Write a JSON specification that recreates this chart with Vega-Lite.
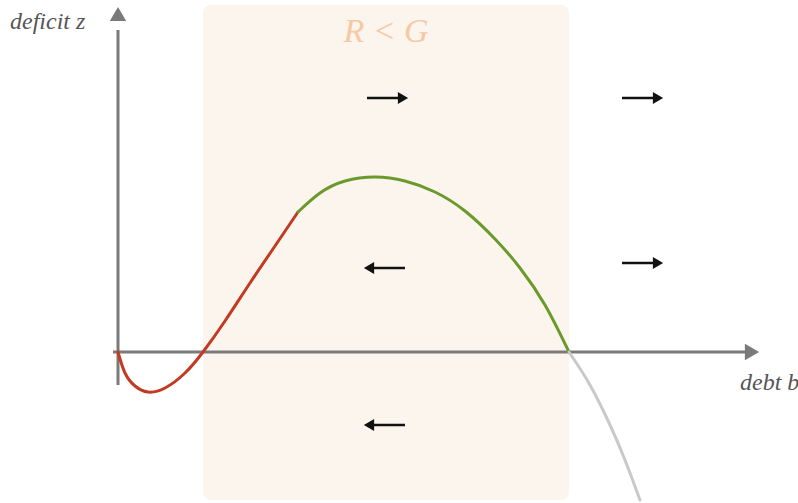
{
  "$schema": "https://vega.github.io/schema/vega-lite/v6.json",
  "width": 798,
  "height": 503,
  "autosize": {"type": "none"},
  "padding": 0,
  "background": "#ffffff",
  "view": {"stroke": null},
  "datasets": {
    "region": [{"b0": 0.85, "b1": 4.51, "z0": -1.48, "z1": 3.47}],
    "curve": [
      {"seg": "red", "b": 0.0, "z": 0.0},
      {"seg": "red", "b": 0.07, "z": -0.21},
      {"seg": "red", "b": 0.17, "z": -0.34},
      {"seg": "red", "b": 0.3, "z": -0.4},
      {"seg": "red", "b": 0.47, "z": -0.36},
      {"seg": "red", "b": 0.67, "z": -0.21},
      {"seg": "red", "b": 0.85, "z": 0.0},
      {"seg": "red", "b": 1.07, "z": 0.31},
      {"seg": "red", "b": 1.32, "z": 0.69},
      {"seg": "red", "b": 1.57, "z": 1.06},
      {"seg": "red", "b": 1.8, "z": 1.4},
      {"seg": "green", "b": 1.8, "z": 1.4},
      {"seg": "green", "b": 2.02, "z": 1.59},
      {"seg": "green", "b": 2.27, "z": 1.71},
      {"seg": "green", "b": 2.57, "z": 1.75},
      {"seg": "green", "b": 2.87, "z": 1.71},
      {"seg": "green", "b": 3.17, "z": 1.6},
      {"seg": "green", "b": 3.47, "z": 1.41},
      {"seg": "green", "b": 3.77, "z": 1.13},
      {"seg": "green", "b": 4.02, "z": 0.84},
      {"seg": "green", "b": 4.27, "z": 0.47},
      {"seg": "green", "b": 4.51, "z": 0.0},
      {"seg": "grey", "b": 4.51, "z": 0.0},
      {"seg": "grey", "b": 4.72, "z": -0.33},
      {"seg": "grey", "b": 4.92, "z": -0.73},
      {"seg": "grey", "b": 5.07, "z": -1.08},
      {"seg": "grey", "b": 5.22, "z": -1.48}
    ],
    "axes": [
      {"name": "z", "b0": 0.0, "b1": 0.0, "z0": -0.33, "z1": 3.22, "hb": 0.0, "hz": 3.38, "shape": "triangle-up"},
      {"name": "b", "b0": -0.05, "b1": 6.28, "z0": 0.0, "z1": 0.0, "hb": 6.34, "hz": 0.0, "shape": "triangle-right"}
    ],
    "arrows": [
      {"b0": 2.49, "b1": 2.84, "z": 2.54, "hb": 2.85, "shape": "triangle-right"},
      {"b0": 5.04, "b1": 5.39, "z": 2.54, "hb": 5.40, "shape": "triangle-right"},
      {"b0": 5.04, "b1": 5.39, "z": 0.89, "hb": 5.40, "shape": "triangle-right"},
      {"b0": 2.52, "b1": 2.87, "z": 0.84, "hb": 2.51, "shape": "triangle-left"},
      {"b0": 2.52, "b1": 2.87, "z": -0.73, "hb": 2.51, "shape": "triangle-left"}
    ],
    "labels": [
      {"text": "deficit z", "b": -1.08, "z": 3.3},
      {"text": "debt b", "b": 6.22, "z": -0.31}
    ]
  },
  "encoding": {
    "x": {"type": "quantitative", "scale": {"domain": [-1.18, 6.8], "nice": false, "zero": false}, "axis": null},
    "y": {"type": "quantitative", "scale": {"domain": [-1.51, 3.52], "nice": false, "zero": false}, "axis": null}
  },
  "layer": [
    {
      "data": {"name": "region"},
      "mark": {"type": "rect", "fill": "#fcf5ee", "cornerRadius": 8},
      "encoding": {
        "x": {"field": "b0", "type": "quantitative"},
        "x2": {"field": "b1"},
        "y": {"field": "z0", "type": "quantitative"},
        "y2": {"field": "z1"}
      }
    },
    {
      "data": {"values": [{"t": "R < G", "b": 2.68, "z": 3.2}]},
      "mark": {"type": "text", "font": "Liberation Serif", "fontStyle": "italic", "fontSize": 34, "color": "#f6c9a4", "baseline": "middle", "align": "center"},
      "encoding": {
        "x": {"field": "b", "type": "quantitative"},
        "y": {"field": "z", "type": "quantitative"},
        "text": {"field": "t"}
      }
    },
    {
      "data": {"name": "axes"},
      "mark": {"type": "rule", "color": "#7a7a7a", "strokeWidth": 3},
      "encoding": {
        "x": {"field": "b0", "type": "quantitative"},
        "x2": {"field": "b1"},
        "y": {"field": "z0", "type": "quantitative"},
        "y2": {"field": "z1"}
      }
    },
    {
      "data": {"name": "axes"},
      "mark": {"type": "point", "filled": true, "color": "#7a7a7a", "opacity": 1, "size": 270},
      "encoding": {
        "x": {"field": "hb", "type": "quantitative"},
        "y": {"field": "hz", "type": "quantitative"},
        "shape": {"field": "shape", "type": "nominal", "scale": null}
      }
    },
    {
      "data": {"name": "curve"},
      "mark": {"type": "line", "strokeWidth": 3, "interpolate": "natural", "strokeCap": "round"},
      "encoding": {
        "x": {"field": "b", "type": "quantitative"},
        "y": {"field": "z", "type": "quantitative"},
        "detail": {"field": "seg"},
        "color": {"field": "seg", "type": "nominal", "scale": {"domain": ["red", "green", "grey"], "range": ["#c23a22", "#6b9a2c", "#c9c9c9"]}, "legend": null},
        "order": {"field": "b", "type": "quantitative"}
      }
    },
    {
      "data": {"name": "arrows"},
      "mark": {"type": "rule", "color": "#111111", "strokeWidth": 2.5},
      "encoding": {
        "x": {"field": "b0", "type": "quantitative"},
        "x2": {"field": "b1"},
        "y": {"field": "z", "type": "quantitative"}
      }
    },
    {
      "data": {"name": "arrows"},
      "mark": {"type": "point", "filled": true, "color": "#111111", "opacity": 1, "size": 140},
      "encoding": {
        "x": {"field": "hb", "type": "quantitative"},
        "y": {"field": "z", "type": "quantitative"},
        "shape": {"field": "shape", "type": "nominal", "scale": null}
      }
    },
    {
      "data": {"name": "labels"},
      "mark": {"type": "text", "font": "Liberation Serif", "fontStyle": "italic", "fontSize": 24, "color": "#555555", "baseline": "middle", "align": "left"},
      "encoding": {
        "x": {"field": "b", "type": "quantitative"},
        "y": {"field": "z", "type": "quantitative"},
        "text": {"field": "text"}
      }
    }
  ]
}
